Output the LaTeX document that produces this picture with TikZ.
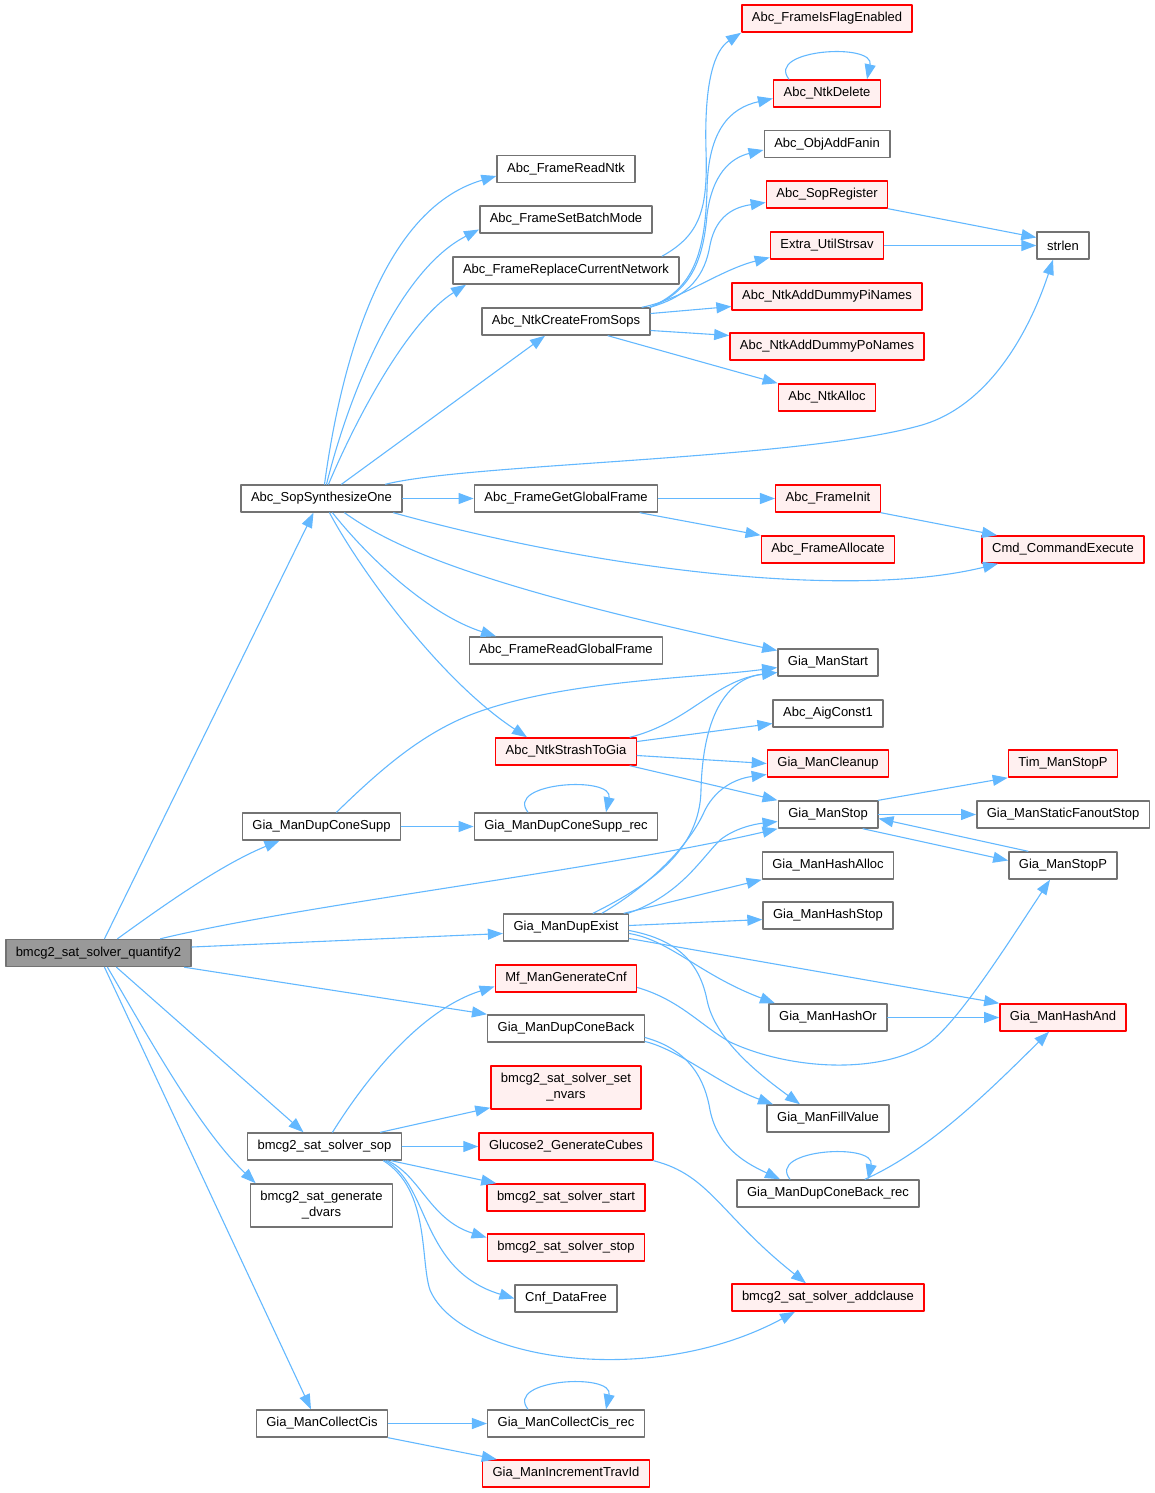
\documentclass[tikz,border=0pt]{standalone}
\usepackage{fontspec}
\setmainfont{Liberation Sans}
\usetikzlibrary{arrows.meta}
\definecolor{qqbbff}{rgb}{0.39,0.72,1}
\definecolor{tttttt}{rgb}{0.45,0.45,0.45}
\definecolor{ffqqqq}{rgb}{1,0,0}
\definecolor{fffeee}{rgb}{1,0.94,0.94}
\definecolor{wwwwww}{rgb}{0.6,0.6,0.6}
\tikzset{
  fn/.style={draw=tttttt,line width=1.5pt,fill=white,minimum height=27pt,inner xsep=10pt,inner ysep=2pt,font=\fontsize{13}{16}\selectfont},
  fnred/.style={fn,draw=ffqqqq,fill=fffeee},
  fnroot/.style={fn,fill=wwwwww},
  twoline/.style={align=center,minimum height=43pt},
  edge/.style={-{Triangle[length=15pt,width=11pt]},color=qqbbff,line width=1.1pt}
}
\begin{document}
\begin{tikzpicture}[line cap=round,line join=round,x=1pt,y=-1pt]
\useasboundingbox (0,0) rectangle (1155,1493);
% callers
\node[fnroot] (q) at (98.5,953) {bmcg2\_sat\_solver\_quantify2};
\node[fn] (sso) at (321.5,498.5) {Abc\_SopSynthesizeOne};
\node[fn] (gdcs) at (321.5,826.5) {Gia\_ManDupConeSupp};
\node[fn] (sop) at (324.5,1146.5) {bmcg2\_sat\_solver\_sop};
\node[fn,twoline] (sgd) at (321.5,1205.5) {bmcg2\_sat\_generate\\\_dvars};
\node[fn] (gmcc) at (322,1423.5) {Gia\_ManCollectCis};
% second column
\node[fn] (frn) at (566,169) {Abc\_FrameReadNtk};
\node[fn] (fsbm) at (566,219.5) {Abc\_FrameSetBatchMode};
\node[fn] (frcn) at (566,270.5) {Abc\_FrameReplaceCurrentNetwork};
\node[fn] (ncfs) at (566,321.5) {Abc\_NtkCreateFromSops};
\node[fn] (fggf) at (566,498.5) {Abc\_FrameGetGlobalFrame};
\node[fn] (frgf) at (566,650.5) {Abc\_FrameReadGlobalFrame};
\node[fnred] (nstg) at (566,751.5) {Abc\_NtkStrashToGia};
\node[fn] (gdcsr) at (566,826.5) {Gia\_ManDupConeSupp\_rec};
\node[fn] (gdex) at (566,927.5) {Gia\_ManDupExist};
\node[fnred] (mf) at (566,978.5) {Mf\_ManGenerateCnf};
\node[fn] (gdcb) at (566,1028.5) {Gia\_ManDupConeBack};
\node[fnred,twoline] (ssnv) at (566,1087.5) {bmcg2\_sat\_solver\_set\\\_nvars};
\node[fnred] (g2gc) at (566,1146.5) {Glucose2\_GenerateCubes};
\node[fnred] (sss) at (566,1197.5) {bmcg2\_sat\_solver\_start};
\node[fnred] (sst) at (566,1247.5) {bmcg2\_sat\_solver\_stop};
\node[fn] (cdf) at (566,1298.5) {Cnf\_DataFree};
\node[fn] (gmccr) at (566,1423.5) {Gia\_ManCollectCis\_rec};
\node[fnred] (gmit) at (566,1473.5) {Gia\_ManIncrementTravId};
% third column
\node[fnred] (fife) at (827,18.5) {Abc\_FrameIsFlagEnabled};
\node[fnred] (ntkd) at (827,93.5) {Abc\_NtkDelete};
\node[fn] (oaf) at (827,144) {Abc\_ObjAddFanin};
\node[fnred] (sopr) at (827,194.5) {Abc\_SopRegister};
\node[fnred] (eus) at (827,245.5) {Extra\_UtilStrsav};
\node[fnred] (nadpi) at (827,296.5) {Abc\_NtkAddDummyPiNames};
\node[fnred] (nadpo) at (827,346.5) {Abc\_NtkAddDummyPoNames};
\node[fnred] (nalloc) at (827,397.5) {Abc\_NtkAlloc};
\node[fnred] (fi) at (828,498.5) {Abc\_FrameInit};
\node[fnred] (fa) at (828,549.5) {Abc\_FrameAllocate};
\node[fn] (gms) at (828,662.5) {Gia\_ManStart};
\node[fn] (ac1) at (828,713.5) {Abc\_AigConst1};
\node[fnred] (gmc) at (828,763.5) {Gia\_ManCleanup};
\node[fn] (gmstop) at (828,814.5) {Gia\_ManStop};
\node[fn] (gmha) at (828,865.5) {Gia\_ManHashAlloc};
\node[fn] (gmhs) at (828,915.5) {Gia\_ManHashStop};
\node[fn] (gmho) at (828,1017.5) {Gia\_ManHashOr};
\node[fn] (gmfv) at (828,1118.5) {Gia\_ManFillValue};
\node[fn] (gdcbr) at (828,1193.5) {Gia\_ManDupConeBack\_rec};
\node[fnred] (sac) at (828,1297.5) {bmcg2\_sat\_solver\_addclause};
% fourth column
\node[fn] (strlen) at (1063,245.5) {strlen};
\node[fnred] (cce) at (1063,549.5) {Cmd\_CommandExecute};
\node[fnred] (tsp) at (1063,763.5) {Tim\_ManStopP};
\node[fn] (gmsfs) at (1063,814.5) {Gia\_ManStaticFanoutStop};
\node[fn] (gmsp) at (1063,865.5) {Gia\_ManStopP};
\node[fnred] (gmhand) at (1063,1017.5) {Gia\_ManHashAnd};
% calls of the root
\draw[edge] ([xshift=6pt]q.north) -- ([xshift=-8pt]sso.south);
\draw[edge] ([xshift=19pt]q.north) .. controls (160,908) and (220,865) .. ([xshift=-42pt]gdcs.south);
\draw[edge] ([xshift=62pt]q.north) .. controls (300,905) and (600,870) .. (gmstop.south west);
\draw[edge] ([yshift=6pt]q.east) -- ([yshift=-6pt]gdex.west);
\draw[edge] ([xshift=86pt]q.south) -- (gdcb.north west);
\draw[edge] ([xshift=18pt]q.south) -- ([xshift=-21pt]sop.north);
\draw[edge] ([xshift=9pt]q.south) .. controls (150,1040) and (200,1130) .. ([xshift=6pt]sgd.north west);
\draw[edge] ([xshift=6pt]q.south) -- ([xshift=-11pt]gmcc.north);
% Abc_SopSynthesizeOne
\draw[edge] ([xshift=3pt]sso.north) .. controls (340,370) and (380,210) .. ([yshift=-7pt]frn.west);
\draw[edge] ([xshift=5pt]sso.north) .. controls (350,390) and (400,270) .. ([yshift=-10pt]fsbm.west);
\draw[edge] ([xshift=7pt]sso.north) .. controls (360,410) and (410,320) .. ([xshift=-100pt]frcn.south);
\draw[edge] ([xshift=20pt]sso.north) -- ([xshift=-21pt]ncfs.south);
\draw[edge] ([xshift=64pt]sso.north) .. controls (470,463) and (800,460) .. (922,425) .. controls (990,405) and (1030,330) .. ([xshift=-10pt]strlen.south);
\draw[edge] (sso.east) -- (fggf.west);
\draw[edge] ([xshift=72pt]sso.south) .. controls (600,570) and (850,600) .. ([xshift=-65pt]cce.south);
\draw[edge] ([xshift=23pt]sso.south) .. controls (390,545) and (470,585) .. ([yshift=12pt]gms.west);
\draw[edge] ([xshift=11pt]sso.south) .. controls (370,560) and (430,615) .. ([xshift=-70pt]frgf.north);
\draw[edge] ([xshift=8pt]sso.south) .. controls (360,570) and (440,680) .. ([xshift=-39pt]nstg.north);
% second column calls
\draw[edge] ([xshift=96pt]frcn.north) .. controls (700,235) and (708,210) .. (706,150) .. controls (704,80) and (715,50) .. (fife.south west);
\draw[edge] ([xshift=84pt]ncfs.north) .. controls (690,290) and (705,260) .. (707,190) .. controls (708,130) and (730,108) .. ([yshift=-5pt]ntkd.west);
\draw[edge] ([xshift=84pt]ncfs.north) .. controls (690,292) and (703,262) .. (707,215) .. controls (712,175) and (730,158) .. ([yshift=-6pt]oaf.west);
\draw[edge] ([xshift=84pt]ncfs.north) .. controls (690,296) and (705,275) .. (710,245) .. controls (716,215) and (735,207) .. ([yshift=-8pt]sopr.west);
\draw[edge] ([xshift=76pt]ncfs.north) .. controls (680,300) and (720,270) .. ([yshift=-12pt]eus.west);
\draw[edge] ([yshift=8pt]ncfs.east) -- ([yshift=-10pt]nadpi.west);
\draw[edge] ([yshift=-9pt]ncfs.east) -- ([yshift=11pt]nadpo.west);
\draw[edge] ([xshift=42pt]ncfs.south) -- (nalloc.north west);
\draw[edge] (sopr.south east) -- ([yshift=8pt]strlen.west);
\draw[edge] (eus.east) -- (strlen.west);
\draw[edge] (fggf.east) -- (fi.west);
\draw[edge] ([xshift=74pt]fggf.south) -- (fa.north west);
\draw[edge] (fi.south east) -- ([xshift=-66pt]cce.north);
\draw[edge] ([xshift=15pt]gdcs.north) .. controls (380,770) and (420,735) .. (470,715) .. controls (560,680) and (700,678) .. ([yshift=-5pt]gms.west);
\draw[edge] (gdcs.east) -- (gdcsr.west);
\draw[edge] ([xshift=64pt]nstg.north) .. controls (690,722) and (715,680) .. ([yshift=-10pt]gms.west);
\draw[edge] ([yshift=10pt]nstg.east) -- ([yshift=-10pt]ac1.west);
\draw[edge] ([yshift=-4pt]nstg.east) -- (gmc.west);
\draw[edge] ([xshift=64pt]nstg.south) -- (gmstop.north west);
\draw[edge] ([xshift=27pt]gdex.north) .. controls (650,885) and (700,850) .. (701,790) .. controls (703,710) and (730,678) .. ([yshift=-10pt]gms.west);
\draw[edge] ([xshift=36pt]gdex.north) .. controls (650,885) and (690,845) .. (705,810) .. controls (718,785) and (740,778) .. ([yshift=-11pt]gmc.west);
\draw[edge] ([xshift=62pt]gdex.north) .. controls (680,895) and (700,860) .. (720,840) .. controls (735,828) and (755,824) .. ([yshift=-7pt]gmstop.west);
\draw[edge] ([xshift=58pt]gdex.north) -- (gmha.south west);
\draw[edge] ([yshift=2pt]gdex.east) -- ([yshift=-4pt]gmhs.west);
\draw[edge] ([yshift=-6pt]gdex.east) .. controls (670,940) and (700,975) .. ([xshift=-53pt]gmho.north);
\draw[edge] ([yshift=-11pt]gdex.east) -- (gmhand.north west);
\draw[edge] ([yshift=-3pt]gdex.east) .. controls (680,940) and (700,965) .. (707,1000) .. controls (715,1040) and (760,1075) .. ([xshift=-28pt]gmfv.north);
\draw[edge] ([yshift=-9pt]mf.east) .. controls (680,1000) and (700,1025) .. (730,1042) .. controls (790,1070) and (880,1075) .. (929,1043) .. controls (960,1020) and (1010,940) .. ([xshift=-13pt]gmsp.south);
\draw[edge] ([yshift=-13pt]gdcb.east) .. controls (680,1050) and (720,1085) .. ([xshift=-55pt]gmfv.north);
\draw[edge] ([yshift=-9pt]gdcb.east) .. controls (690,1050) and (705,1080) .. (710,1110) .. controls (718,1150) and (750,1165) .. ([xshift=-48pt]gdcbr.north);
\draw[edge] ([xshift=8pt]sop.north) .. controls (365,1080) and (420,1010) .. ([yshift=-8pt]mf.west);
\draw[edge] ([xshift=56pt]sop.north) -- ([yshift=2pt]ssnv.south west);
\draw[edge] (sop.east) -- (g2gc.west);
\draw[edge] ([xshift=67pt]sop.south) -- ([xshift=10pt]sss.north west);
\draw[edge] ([xshift=63pt]sop.south) .. controls (420,1175) and (430,1220) .. ([yshift=10pt]sst.west);
\draw[edge] ([xshift=61pt]sop.south) .. controls (430,1185) and (420,1270) .. (cdf.west);
\draw[edge] ([xshift=59pt]sop.south) .. controls (430,1190) and (420,1260) .. (430,1290) .. controls (460,1360) and (650,1390) .. ([xshift=-33pt]sac.south);
\draw[edge] (g2gc.south east) .. controls (710,1175) and (720,1215) .. ([xshift=-22pt]sac.north);
\draw[edge] (gmcc.east) -- (gmccr.west);
\draw[edge] (gmcc.south east) -- ([xshift=15pt]gmit.north west);
% third column calls
\draw[edge] (gmstop.north east) -- (tsp.south west);
\draw[edge] (gmstop.east) -- (gmsfs.west);
\draw[edge] ([xshift=35pt]gmstop.south) -- ([yshift=5pt]gmsp.west);
\draw[edge] ([xshift=-35pt]gmsp.north) -- ([yshift=-4pt]gmstop.east);
\draw[edge] (gmho.east) -- (gmhand.west);
\draw[edge] ([xshift=37pt]gdcbr.north) .. controls (930,1150) and (990,1090) .. ([xshift=-14pt]gmhand.south);
% recursive calls
\foreach \n in {ntkd,gdcsr,gdcbr,gmccr}
  \draw[edge] ([xshift=-38pt]\n.north) .. controls ([xshift=-62pt,yshift=30pt]\n.north) and ([xshift=48pt,yshift=37pt]\n.north) .. ([xshift=40pt]\n.north);
\end{tikzpicture}
\end{document}
